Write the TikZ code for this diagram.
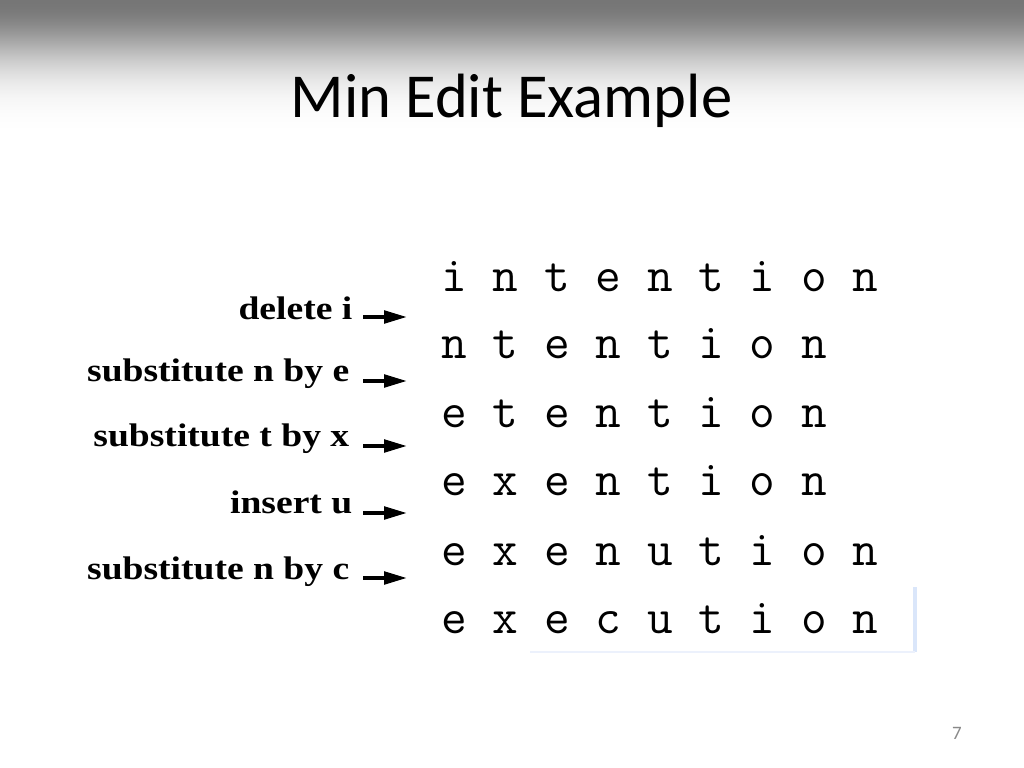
\documentclass[tikz,border=0pt]{standalone}
\usepackage{fontspec}
\setmainfont{Carlito}
\newfontfamily\opfont[FakeStretch=1.15]{Liberation Serif}
\usetikzlibrary{arrows.meta}
\definecolor{pagegrey}{RGB}{137,137,137}
\definecolor{edgeblue}{RGB}{218,230,250}
\definecolor{faintblue}{RGB}{236,241,252}
\colorlet{Black}{black}
\pgfdeclarelayer{backlayer}
\pgfdeclarelayer{edgelayer}
\pgfdeclarelayer{nodelayer}
\pgfsetlayers{backlayer,edgelayer,nodelayer,main}
\tikzstyle{none}=[inner sep=0pt]
\tikzstyle{title}=[inner sep=0pt,anchor=base,font=\fontsize{17.8}{20}\selectfont]
\tikzstyle{word}=[inner sep=0pt,anchor=base west,font=\ttfamily\fontsize{14.2}{16}\selectfont]
\tikzstyle{op}=[inner sep=0pt,anchor=base east,font=\opfont\bfseries\fontsize{9.3}{11}\selectfont]
\tikzstyle{pagenum}=[inner sep=0pt,anchor=base,text=pagegrey,font=\fontsize{5.4}{6}\selectfont]
\tikzstyle{edit}=[-{Triangle[length=2.4mm,width=1.2mm]},draw=Black,line width=1.4pt]

\begin{document}
\begin{tikzpicture}
	\useasboundingbox (0,0) rectangle (10.24,-7.68);
	\begin{pgfonlayer}{backlayer}
		\fill [white] (0,0) rectangle (10.24,-7.68);
		% grey band behind the title, fading to white
		\foreach \i in {0,...,150} {
			\pgfmathsetmacro{\g}{min(1,1.006-0.543*exp(-4.79*(\i/135)^2))}
			\definecolor{bandgrey}{gray}{\g}
			\fill [bandgrey] (0,-\i/100) rectangle (10.24,-\i/100-0.012);
		}
		\draw [edgeblue,line width=0.04cm] (9.15,-5.87) -- (9.15,-6.52);
		\draw [faintblue,line width=0.012cm] (5.3,-6.52) -- (9.15,-6.52);
	\end{pgfonlayer}
	\begin{pgfonlayer}{nodelayer}
		\node [style=title] (0) at (5.115, -1.17) {Min Edit Example};
		\node [style=word] (1) at (4.408, -2.91) {i n t e n t i o n};
		\node [style=word] (2) at (4.408, -3.58) {n t e n t i o n};
		\node [style=word] (3) at (4.408, -4.27) {e t e n t i o n};
		\node [style=word] (4) at (4.408, -4.95) {e x e n t i o n};
		\node [style=word] (5) at (4.408, -5.65) {e x e n u t i o n};
		\node [style=word] (6) at (4.408, -6.33) {e x e c u t i o n};
		\node [style=op] (7) at (3.53, -3.19) {delete i};
		\node [style=op] (8) at (3.50, -3.81) {substitute n by e};
		\node [style=op] (9) at (3.50, -4.46) {substitute t by x};
		\node [style=op] (10) at (3.53, -5.13) {insert u};
		\node [style=op] (11) at (3.50, -5.79) {substitute n by c};
		\coordinate (12) at (3.63, -3.17);
		\coordinate (13) at (4.08, -3.17);
		\coordinate (14) at (3.63, -3.81);
		\coordinate (15) at (4.08, -3.81);
		\coordinate (16) at (3.63, -4.46);
		\coordinate (17) at (4.08, -4.46);
		\coordinate (18) at (3.63, -5.13);
		\coordinate (19) at (4.08, -5.13);
		\coordinate (20) at (3.63, -5.78);
		\coordinate (21) at (4.08, -5.78);
		\node [style=pagenum] (22) at (9.57, -7.39) {7};
	\end{pgfonlayer}
	\begin{pgfonlayer}{edgelayer}
		\draw [style=edit] (12) to (13);
		\draw [style=edit] (14) to (15);
		\draw [style=edit] (16) to (17);
		\draw [style=edit] (18) to (19);
		\draw [style=edit] (20) to (21);
	\end{pgfonlayer}
\end{tikzpicture}
\end{document}
